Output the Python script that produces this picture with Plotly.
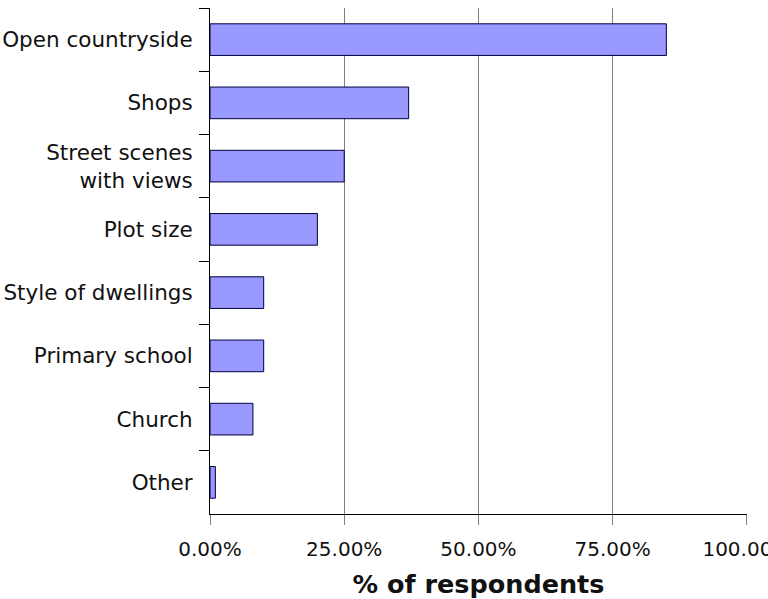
import plotly.graph_objects as go

categories = ["Open countryside", "Shops", "Street scenes<br>with views", "Plot size",
              "Style of dwellings", "Primary school", "Church", "Other"]
values = [85, 37, 25, 20, 10, 10, 8, 1]
x_tick_vals = [0, 25, 50, 75, 100]
x_tick_text = ["0.00%", "25.00%", "50.00%", "75.00%", "100.00%"]
x_title = "% of respondents"

fig = go.Figure(go.Bar(
    x=values, y=categories, orientation="h",
    width=0.5,
    marker=dict(color="#9999FF", line=dict(color="#000040", width=1)),
))

fig.update_layout(
    width=768, height=599,
    margin=dict(l=210, r=21, t=8, b=85),
    paper_bgcolor="white", plot_bgcolor="white",
    font=dict(family="DejaVu Sans", color="#111111", size=20),
    showlegend=False,
    bargap=0.5,
)
fig.update_xaxes(
    range=[0, 100.02], tickvals=x_tick_vals, ticktext=x_tick_text,
    showgrid=True, gridcolor="#808080", gridwidth=1,
    showline=True, linecolor="black", linewidth=1,
    ticks="outside", ticklen=10, tickcolor="#808080",
    tickfont=dict(size=20), ticklabeloverflow="allow", ticklabelstandoff=7,
    title=dict(text="<b>" + x_title + "</b>", font=dict(size=25.5), standoff=15),
    zeroline=False, automargin=False,
)
fig.update_yaxes(
    categoryorder="array", categoryarray=categories,
    range=[7.5, -0.5],
    showline=True, linecolor="black", linewidth=1,
    ticks="outside", ticklen=10, tickcolor="black", tickson="boundaries",
    tickfont=dict(size=21.5), ticklabelstandoff=12, ticklabeloverflow="allow",
    showgrid=False, automargin=False,
)

fig.write_html("out.html", config={"displayModeBar": False},
               post_script="document.body.style.margin='0';")
